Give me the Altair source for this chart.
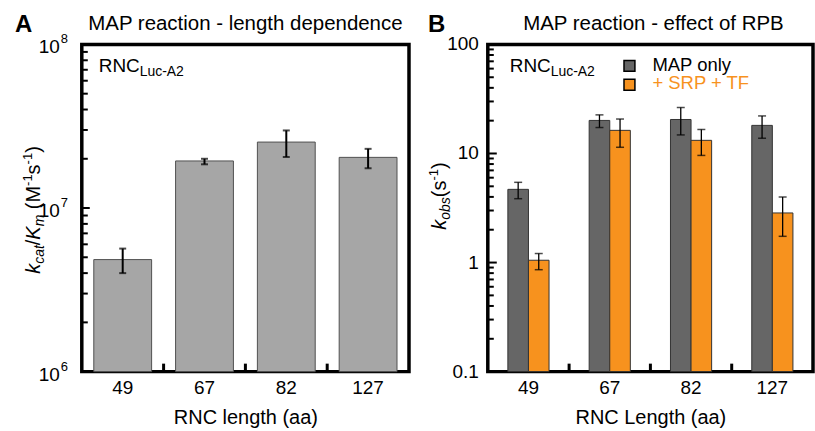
import altair as alt
import pandas as pd

FONT = "Liberation Sans"

# ---------------- data ----------------
lengths = ["49", "67", "82", "127"]

# Panel A: kcat/Km (M^-1 s^-1)
kcat_km = [4.84e6, 1.94e7, 2.53e7, 2.04e7]
kcat_km_lo = [4.0e6, 1.85e7, 2.05e7, 1.75e7]
kcat_km_hi = [5.65e6, 2.0e7, 2.98e7, 2.30e7]

# Panel B: kobs (s^-1)
series = ["MAP only", "+ SRP + TF"]
series_colors = ["#666666", "#f7921e"]
kobs_map = [4.69, 20.1, 20.5, 18.1]
kobs_map_lo = [3.85, 17.3, 14.8, 13.8]
kobs_map_hi = [5.44, 22.6, 26.4, 22.1]
kobs_srp = [1.05, 16.3, 13.2, 2.85]
kobs_srp_lo = [0.86, 11.4, 9.6, 1.74]
kobs_srp_hi = [1.21, 20.7, 16.6, 3.99]

# axis ticks / labels
a_domain = [1e6, 1e8]
a_major = [1e6, 1e7, 1e8]
a_major_base = ["10", "10", "10"]
a_major_exp = ["6", "7", "8"]
a_minor = [2e6, 3e6, 4e6, 5e6, 6e6, 7e6, 8e6, 9e6,
           2e7, 3e7, 4e7, 5e7, 6e7, 7e7, 8e7, 9e7]
b_domain = [0.1, 100]
b_major = [0.1, 1, 10, 100]
b_major_labels = ["0.1", "1", "10", "100"]
b_minor = [0.2, 0.3, 0.4, 0.5, 0.6, 0.7, 0.8, 0.9,
           2, 3, 4, 5, 6, 7, 8, 9,
           20, 30, 40, 50, 60, 70, 80, 90]

WA = 328
WB = 326
H = 328

# Arial / Liberation Sans advance widths (per 1000 em)
CW = {"k": 500, "c": 500, "a": 556, "t": 278, "/": 278, "K": 667, "m": 833,
      " ": 278, "(": 333, "M": 833, "-": 333, "1": 556, "s": 500, ")": 333,
      "o": 556, "b": 556}


def tw(s, size):
    return sum(CW.get(ch, 556) for ch in s) * size / 1000.0


def label(text, x, y, size=19, color="black", align="left", weight="normal",
          style="normal", angle=0, baseline="alphabetic"):
    kw = dict(font=FONT, fontSize=size, color=color, align=align,
              fontWeight=weight, baseline=baseline, fontStyle=style)
    if angle:
        kw["angle"] = angle
    return alt.Chart(pd.DataFrame({"t": [text]})).mark_text(**kw).encode(
        text="t:N", x=alt.value(x), y=alt.value(y))


def rotated_title(pieces, base_x, center_y):
    # pieces: (text, size, style, baseline shift); leading spaces become gaps
    total = sum(tw(t, s) for t, s, _, _ in pieces)
    y = center_y + total / 2.0
    layers = []
    for t, s, st, shift in pieces:
        stripped = t.lstrip(" ")
        y -= tw(t[: len(t) - len(stripped)], s)
        layers.append(label(stripped, base_x + shift, y, size=s, style=st, angle=270))
        y -= tw(stripped, s)
    return layers


def anchor(x1, x2, y1, y2):
    # invisible box that fixes the outer bounds of the figure
    return alt.Chart(pd.DataFrame({"a": [0]})).mark_rect(opacity=0, strokeWidth=0).encode(
        x=alt.value(x1), x2=alt.value(x2), y=alt.value(y1), y2=alt.value(y2))


def x_axis(title):
    return alt.Axis(title=title, labelAngle=0, domain=False, ticks=False,
                    labelFontSize=19, labelPadding=7, titleFontSize=20, titlePadding=10,
                    labelFont=FONT, titleFont=FONT, labelColor="black", titleColor="black",
                    titleFontWeight="normal")


# ---------------- Panel A ----------------
dfA = pd.DataFrame({"len": lengths, "v": kcat_km, "lo": kcat_km_lo, "hi": kcat_km_hi})
yA = alt.Scale(type="log", domain=a_domain)
xA = alt.X("len:N", sort=lengths, scale=alt.Scale(paddingInner=0, paddingOuter=0),
           axis=x_axis("RNC length (aa)"))

barsA = alt.Chart(dfA).mark_bar(width=alt.RelativeBandSize(0.707), color="#a6a6a6",
                                stroke="#505050", strokeWidth=1).encode(
    x=xA, y=alt.Y("v:Q", scale=yA, axis=None), y2=alt.datum(a_domain[0]))
errA = alt.Chart(dfA).mark_rule(color="black", strokeWidth=2).encode(
    x=alt.X("len:N", sort=lengths), y=alt.Y("lo:Q", scale=yA, axis=None), y2="hi:Q")
capA1 = alt.Chart(dfA).mark_tick(color="black", size=7, thickness=2, orient="horizontal").encode(
    x=alt.X("len:N", sort=lengths), y=alt.Y("lo:Q", scale=yA, axis=None))
capA2 = alt.Chart(dfA).mark_tick(color="black", size=7, thickness=2, orient="horizontal").encode(
    x=alt.X("len:N", sort=lengths), y=alt.Y("hi:Q", scale=yA, axis=None))

minA = alt.Chart(pd.DataFrame({"t": a_minor})).mark_rule(color="black", strokeWidth=2).encode(
    y=alt.Y("t:Q", scale=yA, axis=None), x=alt.value(0), x2=alt.value(6))
majA = alt.Chart(pd.DataFrame({"t": a_major})).mark_rule(color="black", strokeWidth=2).encode(
    y=alt.Y("t:Q", scale=yA, axis=None), x=alt.value(0), x2=alt.value(8))
dfAlab = pd.DataFrame({"t": a_major, "b": a_major_base, "e": a_major_exp})
labA = alt.Chart(dfAlab).mark_text(font=FONT, fontSize=19, align="right", baseline="middle", dy=3,
                                   color="black").encode(
    y=alt.Y("t:Q", scale=yA, axis=None), x=alt.value(-22), text="b:N")
supA = alt.Chart(dfAlab).mark_text(font=FONT, fontSize=13, align="left", baseline="middle", dy=-5,
                                   color="black").encode(
    y=alt.Y("t:Q", scale=yA, axis=None), x=alt.value(-21), text="e:N")
xtA = alt.Chart(pd.DataFrame({"len": lengths[1:]})).mark_rule(color="black", strokeWidth=3).encode(
    x=alt.X("len:N", sort=lengths, bandPosition=0), y=alt.value(H), y2=alt.value(H - 8))

piecesA = [("k", 20, "italic", 0), ("cat", 14, "italic", 4), ("/", 20, "normal", 0),
           ("K", 20, "italic", 0), ("m", 14, "italic", 4), (" (M", 20, "normal", 0),
           ("-1", 13, "normal", -8), ("s", 20, "normal", 0), ("-1", 13, "normal", -8),
           (")", 20, "normal", 0)]

panelA = alt.layer(
    anchor(-80, 0, -42, 0),
    barsA, errA, capA1, capA2, minA, majA, labA, supA, xtA,
    *rotated_title(piecesA, -42, 166),
    label("A", -67, -12, size=24, weight="bold"),
    label("MAP reaction - length dependence", 164, -14, size=20.5, align="center"),
    label("RNC", 17, 28, size=19),
    label("Luc-A2", 58, 32, size=14),
).properties(width=WA, height=H)

# ---------------- Panel B ----------------
rows = []
for i, L in enumerate(lengths):
    rows.append({"len": L, "s": series[0], "v": kobs_map[i], "lo": kobs_map_lo[i], "hi": kobs_map_hi[i]})
    rows.append({"len": L, "s": series[1], "v": kobs_srp[i], "lo": kobs_srp_lo[i], "hi": kobs_srp_hi[i]})
dfB = pd.DataFrame(rows)
yB = alt.Scale(type="log", domain=b_domain)
xB = alt.X("len:N", sort=lengths, scale=alt.Scale(paddingInner=0, paddingOuter=0),
           axis=x_axis("RNC Length (aa)"))
xoff = alt.XOffset("s:N", sort=series, scale=alt.Scale(paddingInner=0, paddingOuter=0.975))

barsB = alt.Chart(dfB).mark_bar(stroke="#333333", strokeWidth=1).encode(
    x=xB, xOffset=xoff, y=alt.Y("v:Q", scale=yB, axis=None), y2=alt.datum(b_domain[0]),
    color=alt.Color("s:N", scale=alt.Scale(domain=series, range=series_colors), legend=None))
errB = alt.Chart(dfB).mark_rule(color="black", strokeWidth=1.3).encode(
    x=alt.X("len:N", sort=lengths), xOffset=xoff, y=alt.Y("lo:Q", scale=yB, axis=None), y2="hi:Q")
capB1 = alt.Chart(dfB).mark_tick(color="black", size=8, thickness=1.5, orient="horizontal").encode(
    x=alt.X("len:N", sort=lengths), xOffset=xoff, y=alt.Y("lo:Q", scale=yB, axis=None))
capB2 = alt.Chart(dfB).mark_tick(color="black", size=8, thickness=1.5, orient="horizontal").encode(
    x=alt.X("len:N", sort=lengths), xOffset=xoff, y=alt.Y("hi:Q", scale=yB, axis=None))

minB = alt.Chart(pd.DataFrame({"t": b_minor})).mark_rule(color="black", strokeWidth=2).encode(
    y=alt.Y("t:Q", scale=yB, axis=None), x=alt.value(0), x2=alt.value(6))
majB = alt.Chart(pd.DataFrame({"t": b_major})).mark_rule(color="black", strokeWidth=2).encode(
    y=alt.Y("t:Q", scale=yB, axis=None), x=alt.value(0), x2=alt.value(9))
labB = alt.Chart(pd.DataFrame({"t": b_major, "l": b_major_labels})).mark_text(
    font=FONT, fontSize=19, align="right", baseline="middle", color="black").encode(
    y=alt.Y("t:Q", scale=yB, axis=None), x=alt.value(-9), text="l:N")
xtB = alt.Chart(pd.DataFrame({"len": lengths[1:]})).mark_rule(color="black", strokeWidth=3).encode(
    x=alt.X("len:N", sort=lengths, bandPosition=0), y=alt.value(H), y2=alt.value(H - 8))

piecesB = [("k", 20, "italic", 0), ("obs", 14, "italic", 4), ("(", 20, "normal", 0),
           ("s", 20, "normal", 0), ("-1", 13, "normal", -8), (")", 20, "normal", 0)]

legB = [
    alt.Chart(pd.DataFrame({"s": [series[0]]})).mark_square(
        size=120, stroke="black", strokeWidth=1.5, opacity=1, color=series_colors[0]).encode(
        x=alt.value(142), y=alt.value(21.5)),
    alt.Chart(pd.DataFrame({"s": [series[1]]})).mark_square(
        size=120, stroke="black", strokeWidth=1.5, opacity=1, color=series_colors[1]).encode(
        x=alt.value(142), y=alt.value(40.5)),
    label(series[0], 165, 27, size=18.5),
    label(series[1], 165, 45, size=18.5, color=series_colors[1]),
]

panelB = alt.layer(
    anchor(0, WB, 0, 431 - 42),
    barsB, errB, capB1, capB2, minB, majB, labB, xtB,
    *rotated_title(piecesB, -42, 152),
    *legB,
    label("B", -60, -12, size=24, weight="bold"),
    label("MAP reaction - effect of RPB", 166, -14, size=20.5, align="center"),
    label("RNC", 22, 28, size=19),
    label("Luc-A2", 63, 32, size=14),
).properties(width=WB, height=H)

chart = alt.hconcat(panelA, panelB, spacing=79, bounds="flush").properties(
    padding=0,
    autosize=alt.AutoSizeParams(type="pad"),
    background="white",
).configure_view(stroke="black", strokeWidth=3.5)

chart.save("out.html", embed_options={"renderer": "svg", "actions": False})
